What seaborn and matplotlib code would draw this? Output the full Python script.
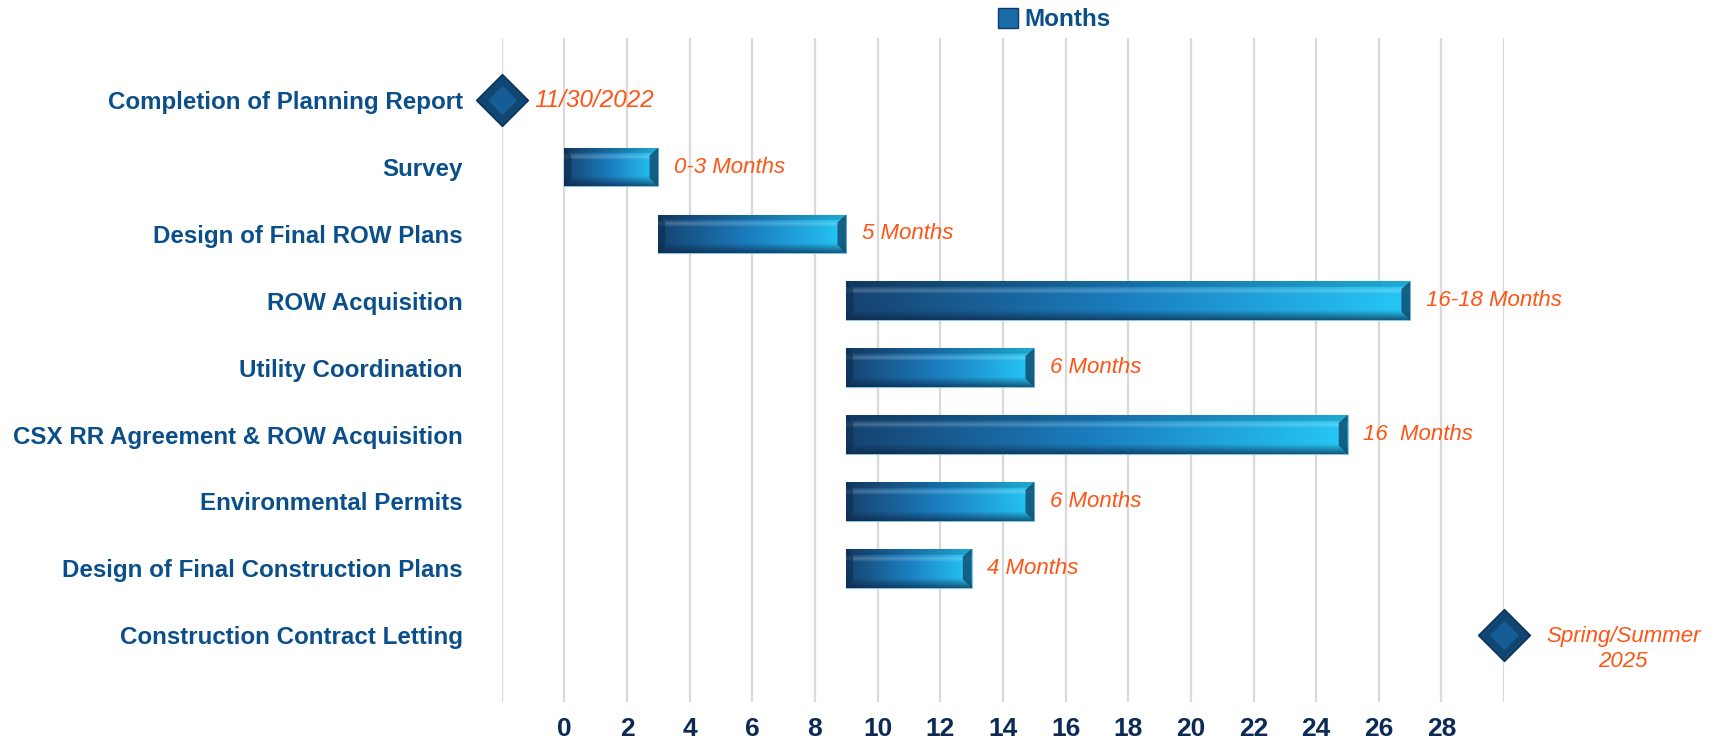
import matplotlib
matplotlib.use("Agg")
import matplotlib.pyplot as plt
from matplotlib.colors import to_rgb
from matplotlib.lines import Line2D
import numpy as np
import pandas as pd
import seaborn as sns

# Datos del cronograma
tareas = ["Completion of Planning Report", "Survey", "Design of Final ROW Plans",
          "ROW Acquisition", "Utility Coordination", "CSX RR Agreement & ROW Acquisition",
          "Environmental Permits", "Design of Final Construction Plans",
          "Construction Contract Letting"]
inicio = [np.nan, 0, 3, 9, 9, 9, 9, 9, np.nan]
duracion = [np.nan, 3, 6, 18, 6, 16, 6, 4, np.nan]
hitos = [-2, np.nan, np.nan, np.nan, np.nan, np.nan, np.nan, np.nan, 30]
etiquetas = ["11/30/2022", "0-3 Months", "5 Months", "16-18 Months", "6 Months",
             "16  Months", "6 Months", "4 Months", "Spring/Summer\n2025"]
ticks_x = list(range(0, 30, 2))

df = pd.DataFrame({"tarea": tareas, "inicio": inicio, "duracion": duracion, "hito": hitos})

sns.set_theme(style="white")
plt.rcParams["font.family"] = ["Liberation Sans", "DejaVu Sans"]

AZUL = "#0b4f8a"
NARANJA = "#ff5414"

fig = plt.figure(figsize=(17.21, 7.41), dpi=100)
ax = fig.add_axes([0.2915, 0.0526, 0.5825, 0.8961])

# Barras (duraciones) con seaborn, luego desplazadas a su inicio
sns.barplot(data=df, x="duracion", y="tarea", orient="h", ax=ax, width=0.58,
            color="#1c6ea4", edgecolor="#8cc3e3", linewidth=0.8, errorbar=None)

# degradado tipo bisel
c_izq, c_med, c_der = np.array(to_rgb("#16426f")), np.array(to_rgb("#1b7fc0")), np.array(to_rgb("#26c8f6"))
osc = np.array(to_rgb("#0a2240"))
def degradado(nx=300, ny=60):
    t = np.linspace(0, 1, nx)
    base = np.where(t[:, None] < 0.5,
                    c_izq + (c_med - c_izq) * (t[:, None] / 0.5),
                    c_med + (c_der - c_med) * ((t[:, None] - 0.5) / 0.5))
    img = np.tile(base[None, :, :], (ny, 1, 1))
    v = np.linspace(0, 1, ny)
    for i, vv in enumerate(v):
        if vv < 0.15:
            img[i] = img[i] * 0.85
        elif vv < 0.32:
            k = 1 - abs(vv - 0.24) / 0.09
            img[i] = img[i] + (1 - img[i]) * 0.22 * max(k, 0.2)
        elif vv > 0.75:
            k = (vv - 0.75) / 0.25
            img[i] = img[i] * (1 - 0.65 * k) + osc * 0.65 * k
    return np.clip(img, 0, 1)

img = degradado()
for p in ax.patches:
    fila = int(round(p.get_y() + p.get_height() / 2))
    p.set_x(df["inicio"][fila])
    x0, w = p.get_x(), p.get_width()
    y0, h = p.get_y(), p.get_height()
    im = ax.imshow(img, extent=[x0, x0 + w, y0 + h, y0], aspect="auto", zorder=3,
                   interpolation="bilinear")
    im.set_clip_path(p)
    # extremos (bisel)
    ax.fill([x0 + w - 0.28, x0 + w, x0 + w, x0 + w - 0.28],
            [y0 + 0.2 * h, y0, y0 + h, y0 + 0.78 * h], color="#0f4f72", alpha=0.85, zorder=4, lw=0)
    ax.fill([x0, x0 + 0.22, x0 + 0.22, x0],
            [y0, y0 + 0.2 * h, y0 + 0.78 * h, y0 + h], color="#0c2c4e", alpha=0.6, zorder=4, lw=0)

# Hitos (rombos)
hit = df.dropna(subset=["hito"])
ypos = [tareas.index(t) for t in hit["tarea"]]
ax.scatter(hit["hito"], ypos, marker="D", s=700, color="#0f4674", edgecolor="#0a2f52",
           linewidth=1, zorder=5, clip_on=False)
ax.scatter(hit["hito"], ypos, marker="D", s=220, color="#175d95", linewidth=0, zorder=6,
           clip_on=False)

# Etiquetas naranjas
fin = df["inicio"] + df["duracion"]
for i, txt in enumerate(etiquetas):
    if not np.isnan(hitos[i]):
        if "\n" in txt:
            ax.text(hitos[i] + 3.8, i + 0.2, txt, ha="center", va="center", color=NARANJA,
                    fontsize=16, style="italic", linespacing=1.25)
        else:
            ax.text(hitos[i] + 1.05, i, txt, ha="left", va="center", color=NARANJA,
                    fontsize=17.5, style="italic")
        continue
    ax.text(fin[i] + 0.5, i, txt, ha="left", va="center", color=NARANJA, fontsize=16,
            style="italic")

ax.set_xlim(-2, 30)
ax.set_ylim(9.0, -0.93)
ax.set_xticks([-2] + ticks_x + [30])
ax.set_xticklabels([""] + [str(t) for t in ticks_x] + [""])
ax.xaxis.grid(True, color="#d9d9d9", linewidth=1.6)
ax.set_axisbelow(True)
ax.set_xlabel("")
ax.set_ylabel("")
for s in ax.spines.values():
    s.set_visible(False)
ax.tick_params(axis="y", length=0, pad=28, labelsize=17.4, labelcolor=AZUL)
ax.tick_params(axis="x", length=0, pad=11, labelsize=19, labelcolor="#0d2a55")
for lb in ax.get_yticklabels():
    lb.set_fontweight("bold")
for lb in ax.get_xticklabels():
    lb.set_fontweight("bold")

# Leyenda
marca = Line2D([], [], marker="s", linestyle="", markersize=15,
               markerfacecolor="#1a6aa6", markeredgecolor="#0d3d6e")
fig.legend([marca], ["Months"], loc="center", bbox_to_anchor=(1052 / 1721, 1 - 20 / 741),
           frameon=False, prop={"weight": "bold", "size": 17.5}, labelcolor=AZUL,
           handletextpad=0.1, handlelength=1.2, borderpad=0)

fig.savefig("out.png", dpi=100)
